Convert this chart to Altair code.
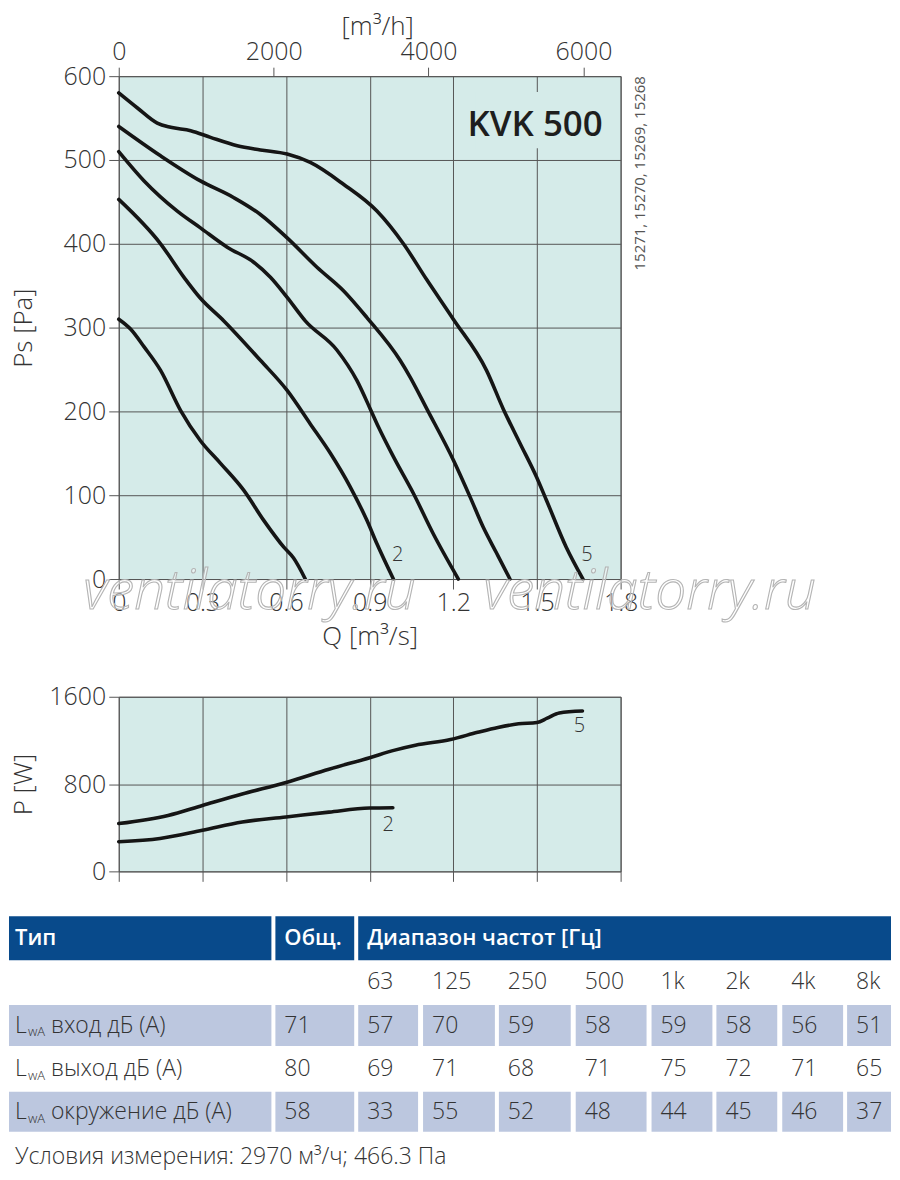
import altair as alt
import pandas as pd

# ---------------- data: fan curves Ps [Pa] vs Q [m3/s] ----------------
c1_q = [0, 0.043, 0.091, 0.150, 0.222, 0.293, 0.365, 0.448, 0.520, 0.592, 0.627, 0.669]
c1_ps = [310, 298, 277, 249, 201, 165, 138, 106, 70, 38, 25, 0]
c2_q = [0, 0.150, 0.234, 0.293, 0.377, 0.508, 0.604, 0.687, 0.759, 0.830, 0.890, 0.926, 0.985]
c2_ps = [453, 400, 360, 335, 308, 261, 225, 185, 150, 110, 70, 42, 0]
c3_q = [0, 0.091, 0.210, 0.293, 0.389, 0.484, 0.544, 0.604, 0.669, 0.783, 0.854, 0.902, 0.932, 0.985, 1.057, 1.128, 1.218]
c3_ps = [510, 475, 439, 419, 396, 378, 360, 336, 308, 273, 237, 203, 181, 146, 102, 54, 0]
c4_q = [0, 0.150, 0.293, 0.413, 0.508, 0.604, 0.711, 0.806, 0.890, 1.009, 1.045, 1.105, 1.200, 1.260, 1.307, 1.355, 1.403]
c4_ps = [540, 505, 475, 455, 435, 407, 372, 344, 312, 261, 241, 203, 142, 98, 62, 31, 0]
c5_q = [0, 0.067, 0.138, 0.186, 0.258, 0.329, 0.425, 0.508, 0.604, 0.687, 0.806, 0.926, 1.021, 1.105, 1.200, 1.319, 1.379, 1.439, 1.498, 1.534, 1.605, 1.665]
c5_ps = [580, 562, 544, 539, 535, 527, 517, 512, 507, 497, 471, 439, 400, 357, 310, 249, 203, 162, 122, 94, 38, 0]
curve_ids = ["1", "2", "3", "4", "5"]

# ---------------- data: power P [W] vs Q [m3/s] ----------------
p2_q = [0, 0.148, 0.300, 0.443, 0.600, 0.754, 0.900, 0.983]
p2_w = [272, 302, 377, 453, 498, 543, 580, 583]
p5_q = [0, 0.177, 0.300, 0.443, 0.600, 0.754, 0.900, 0.990, 1.064, 1.190, 1.287, 1.360, 1.434, 1.500, 1.537, 1.580, 1.663]
p5_w = [438, 513, 604, 709, 815, 936, 1042, 1111, 1156, 1208, 1274, 1319, 1352, 1364, 1404, 1452, 1470]
power_ids = ["2", "5"]

# axis ticks
q_ticks = [0, 0.3, 0.6, 0.9, 1.2, 1.5, 1.8]
ps_ticks = [0, 100, 200, 300, 400, 500, 600]
h_ticks = [0, 2000, 4000, 6000]
p_ticks = [0, 800, 1600]

# texts
model_name = "KVK 500"
article_numbers = "15271, 15270, 15269, 15268"
watermark_text = "ventilatorry.ru"

# ---------------- data: sound table ----------------
head_type = "Тип"
head_total = "Общ."
head_range = "Диапазон частот [Гц]"
freq_labels = ["63", "125", "250", "500", "1k", "2k", "4k", "8k"]
row_names = ["вход дБ (А)", "выход дБ (А)", "окружение дБ (А)"]
total_db = [71, 80, 58]
inlet_db = [57, 70, 59, 58, 59, 58, 56, 51]
outlet_db = [69, 71, 68, 71, 75, 72, 71, 65]
surround_db = [33, 55, 52, 48, 44, 45, 46, 37]
footer = "Условия измерения: 2970 м³/ч; 466.3 Па"

# ---------------- styles / layout ----------------
BG = "#d5ebe9"
GRID = "#555555"
INK = "#333333"
CURVE = "#151515"
HEAD = "#084a8b"
SHADE = "#bcc7df"
FONT = "Open Sans"

# table layout (page pixel units)
col_label = (8, 271)
col_total = (275, 354)
col_freq = [(358, 418), (423, 495), (499, 571), (576, 647), (652, 713), (717, 778), (783, 844), (848, 892)]
row_head = (917, 961)
row_freq_y = 983
row_body = [(1006, 1047), (1050, 1090), (1093, 1133)]
footer_y = 1158
text_pad = 9

# ---------------- build frames ----------------
curve_rows = []
for cid, qs, ps in zip(curve_ids, [c1_q, c2_q, c3_q, c4_q, c5_q], [c1_ps, c2_ps, c3_ps, c4_ps, c5_ps]):
    for q, p in zip(qs, ps):
        curve_rows.append({"curve": cid, "Q": q, "Ps": p})
curves = pd.DataFrame(curve_rows)

power_rows = []
for cid, qs, ws in zip(power_ids, [p2_q, p5_q], [p2_w, p5_w]):
    for q, w in zip(qs, ws):
        power_rows.append({"curve": cid, "Q": q, "P": w})
power = pd.DataFrame(power_rows)

qscale = alt.Scale(domain=[0, 1.8], nice=False, zero=False)

x_main = alt.X(
    "Q:Q", scale=qscale,
    axis=alt.Axis(values=q_ticks, format="~g", grid=True, title="Q [m³/s]",
                  titlePadding=8, labelPadding=2, tickSize=10, labelFlush=False),
)
y_main = alt.Y(
    "Ps:Q", scale=alt.Scale(domain=[0, 600], nice=False),
    axis=alt.Axis(values=ps_ticks, grid=True, title="Ps [Pa]", titleX=-82,
                  labelPadding=3, tickSize=10),
)

lines = alt.Chart(curves).mark_line(
    interpolate="monotone", color=CURVE, strokeWidth=3.6, strokeCap="round"
).encode(x=x_main, y=y_main, detail="curve:N")

curve_labels = alt.Chart(pd.DataFrame({"Q": [0.980, 1.659], "Ps": [29, 29], "t": ["2", "5"]})).mark_text(
    align="left", baseline="middle", fontSize=20, color=INK, font=FONT, fontWeight=300
).encode(x=x_main, y=y_main, text="t:N")

kvk_bg = alt.Chart(pd.DataFrame({"Q": [1.28], "Q2": [1.76], "Ps": [514], "Ps2": [581]})).mark_rect(
    color=BG
).encode(x=x_main, x2="Q2:Q", y=y_main, y2="Ps2:Q")

kvk = alt.Chart(pd.DataFrame({"Q": [1.736], "Ps": [528.6], "t": [model_name]})).mark_text(
    align="right", baseline="alphabetic", fontSize=35, fontWeight=600, color="#1e1e1e", font=FONT
).encode(x=x_main, y=y_main, text="t:N")

art = alt.Chart(pd.DataFrame({"Q": [1.868], "Ps": [600], "t": [article_numbers]})).mark_text(
    angle=270, align="right", baseline="middle", fontSize=15, color="#555555", font=FONT
).encode(x=x_main, y=y_main, text="t:N")

wm = alt.Chart(pd.DataFrame({"Q": [0.469, 1.904], "Ps": [-15.5, -15.5], "t": [watermark_text, watermark_text]})).mark_text(
    align="center", baseline="middle", fontSize=55, fontStyle="italic", fontWeight=300, font=FONT,
    fill="white", fillOpacity=0.45, stroke="#b4b4b4", strokeWidth=1.1
).encode(x=x_main, y=y_main, text="t:N")

top_axis = alt.Chart(pd.DataFrame({"h": h_ticks})).mark_point(opacity=0).encode(
    x=alt.X("h:Q", scale=alt.Scale(domain=[0, 6480], nice=False, zero=False),
            axis=alt.Axis(orient="top", values=h_ticks, format="d", grid=False, domain=False,
                          labelFlush=False, title="[m³/h]", titleX=259, titlePadding=0,
                          tickSize=9, labelPadding=3)),
    y=alt.value(0),
)

inner = alt.layer(kvk_bg, lines, curve_labels, kvk, art, wm)
main = alt.layer(inner, top_axis).resolve_scale(x="independent").properties(
    width=503, height=504, view=alt.ViewBackground(fill=BG, stroke=GRID, strokeWidth=1)
)

# power chart
x_pow = alt.X("Q:Q", scale=qscale,
              axis=alt.Axis(values=q_ticks, grid=True, labels=False, title="", tickSize=10))
y_pow = alt.Y("P:Q", scale=alt.Scale(domain=[0, 1600], nice=False),
              axis=alt.Axis(values=p_ticks, format="d", grid=True, title="P [W]", titleX=-82,
                            labelPadding=3, tickSize=10))
pow_lines = alt.Chart(power).mark_line(
    interpolate="monotone", color=CURVE, strokeWidth=3.6, strokeCap="round"
).encode(x=x_pow, y=y_pow, detail="curve:N")
pow_labels = alt.Chart(pd.DataFrame({"Q": [0.966, 1.652], "P": [423, 1330], "t": ["2", "5"]})).mark_text(
    align="center", baseline="middle", fontSize=20, color=INK, font=FONT, fontWeight=300
).encode(x=x_pow, y=y_pow, text="t:N")
power_chart = alt.layer(pow_lines, pow_labels).properties(
    width=503, height=175, view=alt.ViewBackground(fill=BG, stroke=GRID, strokeWidth=1)
)

# table
rects = []
rects.append({"x": col_label[0], "x2": col_label[1], "y": row_head[0], "y2": row_head[1], "fill": HEAD})
rects.append({"x": col_total[0], "x2": col_total[1], "y": row_head[0], "y2": row_head[1], "fill": HEAD})
rects.append({"x": col_freq[0][0], "x2": col_freq[-1][1], "y": row_head[0], "y2": row_head[1], "fill": HEAD})
for ri in (0, 2):
    y0, y1 = row_body[ri]
    for c in [col_label, col_total] + col_freq:
        rects.append({"x": c[0], "x2": c[1], "y": y0, "y2": y1, "fill": SHADE})
rect_df = pd.DataFrame(rects)

head_df = pd.DataFrame({
    "x": [14, col_total[0] + text_pad, col_freq[0][0] + text_pad],
    "y": [(row_head[0] + row_head[1]) / 2] * 3,
    "t": [head_type, head_total, head_range],
})

body = []
for c, f in zip(col_freq, freq_labels):
    body.append({"x": c[0] + text_pad, "y": row_freq_y, "t": f})
for ri, (name, tot, vals) in enumerate(zip(row_names, total_db, [inlet_db, outlet_db, surround_db])):
    yc = (row_body[ri][0] + row_body[ri][1]) / 2
    body.append({"x": 14, "y": yc, "t": "L"})
    body.append({"x": 50, "y": yc, "t": name})
    body.append({"x": col_total[0] + text_pad, "y": yc, "t": str(tot)})
    for c, v in zip(col_freq, vals):
        body.append({"x": c[0] + text_pad, "y": yc, "t": str(v)})
body.append({"x": 14, "y": footer_y, "t": footer})
body_df = pd.DataFrame(body)

sub_df = pd.DataFrame({
    "x": [27] * 3,
    "y": [(r[0] + r[1]) / 2 + 7 for r in row_body],
    "t": ["wA"] * 3,
})

tx = alt.X("x:Q", scale=alt.Scale(domain=[8, 892], range=[-110, 774], nice=False, zero=False), axis=None)
ty = alt.Y("y:Q", scale=alt.Scale(domain=[917, 1172], range=[-73, 182], nice=False, zero=False), axis=None)

t_rect = alt.Chart(rect_df).mark_rect().encode(
    x=tx, x2="x2:Q", y=ty, y2="y2:Q", color=alt.Color("fill:N", scale=None)
)
t_head = alt.Chart(head_df).mark_text(
    align="left", baseline="middle", fontSize=22, fontWeight=600, color="white", font=FONT
).encode(x=tx, y=ty, text="t:N")
t_body = alt.Chart(body_df).mark_text(
    align="left", baseline="middle", fontSize=23, color=INK, font=FONT, fontWeight=300
).encode(x=tx, y=ty, text="t:N")
t_sub = alt.Chart(sub_df).mark_text(
    align="left", baseline="middle", fontSize=13, color=INK, font=FONT, fontWeight=300
).encode(x=tx, y=ty, text="t:N")
table = alt.layer(t_rect, t_head, t_body, t_sub).properties(width=774, height=182)

chart = alt.vconcat(main, power_chart, table, spacing=118, bounds="flush").properties(
    padding={"left": 0, "top": 3, "right": 0, "bottom": 0}
).configure(font=FONT).configure_view(stroke="transparent").configure_axis(
    gridColor=GRID, gridWidth=1, gridOpacity=1, tickColor=GRID, tickWidth=1, domain=False,
    labelFont=FONT, labelFontSize=25, labelFontWeight=300, labelColor=INK,
    titleFont=FONT, titleFontSize=26, titleFontWeight=300, titleColor=INK,
)

chart.save("out.html", embed_options={"renderer": "svg", "actions": False})
